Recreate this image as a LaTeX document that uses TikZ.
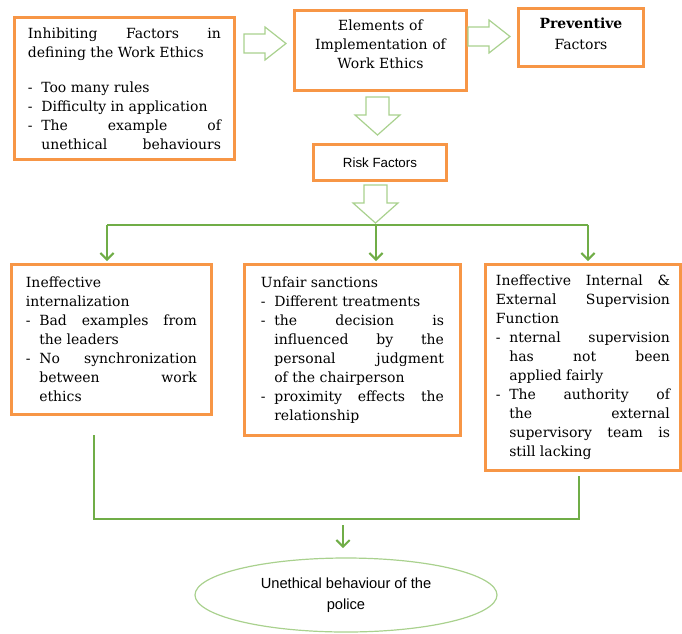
\documentclass[tikz,border=0pt]{standalone}
\usepackage{fontspec}
\setmainfont{DejaVu Serif}
\newfontfamily\arialfont{Liberation Sans}
\usetikzlibrary{arrows.meta,shapes.geometric}
\definecolor{boxorange}{HTML}{F79646}
\definecolor{linegreen}{HTML}{70AD47}
\definecolor{lightgreen}{HTML}{A9D18E}
\newcommand{\dashitem}{\par\noindent\hangindent=10pt\hangafter=1\makebox[10pt][l]{-}}
\tolerance=10000
\hbadness=10000
\begin{document}
\begin{tikzpicture}[x=0.75pt,y=-0.75pt,
	box/.style={draw=boxorange, line width=2.2pt, fill=white, anchor=north west, inner sep=0pt, align=justify, font=\fontsize{10.5}{14.25}\selectfont},
	gline/.style={draw=linegreen, line width=1.5pt},
	tip/.style={-{Straight Barb[length=5pt,width=10pt]}},
	hollow/.style={draw=lightgreen, line width=0.9pt, fill=white},
	rarrow/.pic={\path[hollow] (0,-9.5) -- (21,-9.5) -- (21,-16.5) -- (42,0) -- (21,16.5) -- (21,9.5) -- (0,9.5) -- cycle;},
	darrow/.pic={\path[hollow] (-11.5,0) -- (11.5,0) -- (11.5,18) -- (22.5,18) -- (0,38) -- (-22.5,18) -- (-11.5,18) -- cycle;}]
\useasboundingbox (0,0) rectangle (682,633);
\node[box, minimum width=165pt, minimum height=106.5pt, text width=144.75pt] (inhib) at (13,16)
	{Inhibiting Factors in\linebreak defining the Work Ethics\par\vspace{12pt}
	\dashitem Too many rules
	\dashitem Difficulty in application
	\dashitem The example of\linebreak unethical behaviours{\parfillskip=0pt\par}};
\node[box, minimum width=129pt, minimum height=60pt, text width=125pt, align=center] (elem) at (293,9)
	{Elements of\par Implementation of\par Work Ethics\par\vspace*{10pt}\hrule height 0pt};
\node[box, minimum width=93.75pt, minimum height=43.5pt, text width=90pt, align=center] (prev) at (517,7)
	{\textbf{Preventive}\par\vspace{1.5pt}Factors\par\vspace*{6pt}\hrule height 0pt};
\node[box, minimum width=99.75pt, minimum height=27pt, font=\arialfont\fontsize{10}{12}\selectfont] (risk) at (312,143)
	{Risk Factors};
\node[box, minimum width=150pt, minimum height=112.5pt, text width=128.25pt] (intern) at (10,263)
	{Ineffective\linebreak internalization
	\dashitem Bad examples from\linebreak the leaders
	\dashitem No synchronization\linebreak between work\linebreak ethics\par};
\node[box, minimum width=162pt, minimum height=128.25pt, text width=137.25pt] (sanct) at (243,263)
	{Unfair sanctions
	\dashitem Different treatments
	\dashitem the decision is\linebreak influenced by the\linebreak personal judgment\linebreak of the chairperson
	\dashitem proximity effects the\linebreak relationship\par};
\node[box, minimum width=146.25pt, minimum height=154.5pt, text width=130.5pt] (superv) at (484,263)
	{Ineffective Internal \&\linebreak External Supervision\linebreak Function
	\dashitem nternal supervision\linebreak has not been\linebreak applied fairly
	\dashitem The authority of\linebreak the external\linebreak supervisory team is\linebreak still lacking\par};
\node[ellipse, draw=lightgreen, line width=0.9pt, minimum width=226.5pt, minimum height=55.5pt, align=center, font=\arialfont\fontsize{11}{15.75}\selectfont] (police) at (346,595)
	{Unethical behaviour of the\\ police};
\pic at (244,43.5) {rarrow};
\pic at (468,36.5) {rarrow};
\pic at (377.5,97) {darrow};
\pic at (375.5,185) {darrow};
\coordinate (forkl) at (107,225);
\coordinate (forkm) at (376,225);
\coordinate (forkr) at (588,225);
\draw[gline] (forkl) -- (forkr);
\draw[gline, tip, shorten >=1.5pt] (forkl) -- (forkl |- intern.north);
\draw[gline, tip, shorten >=1.5pt] (forkm) -- (forkm |- sanct.north);
\draw[gline, tip, shorten >=1.5pt] (forkr) -- (forkr |- superv.north);
\coordinate (joinl) at (94,435);
\coordinate (joinr) at (579,476);
\coordinate (down) at (343,525);
\draw[gline] (joinl) -- (94,519) -- (579,519) -- (joinr);
\draw[gline, tip, shorten >=7pt] (down) -- (down |- police.north);
\end{tikzpicture}
\end{document}
